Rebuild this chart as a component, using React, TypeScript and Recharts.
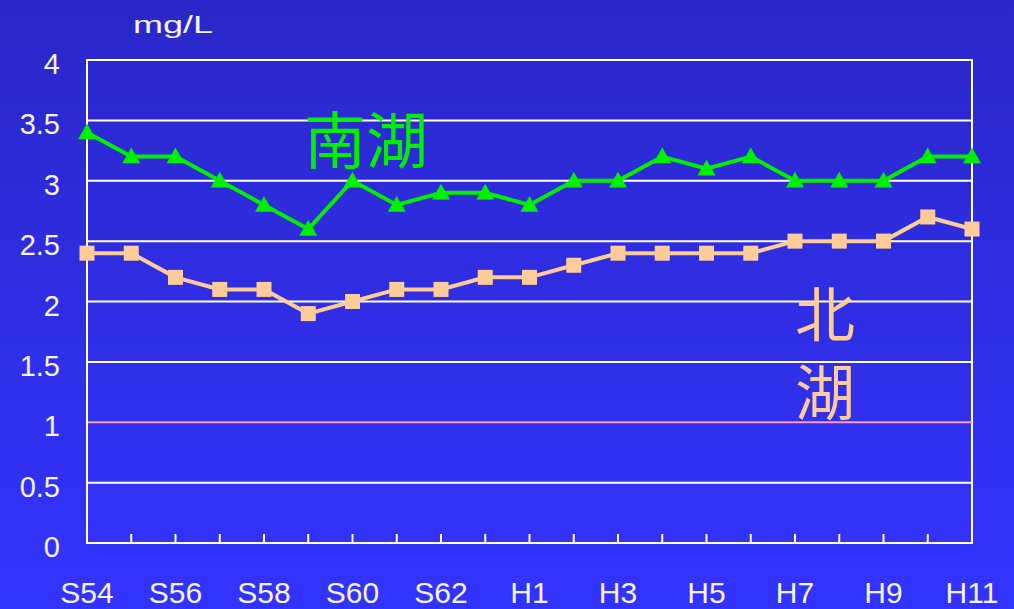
import React from "react";
import {
  LineChart,
  Line,
  XAxis,
  YAxis,
  CartesianGrid,
  ReferenceLine,
  ReferenceArea,
} from "recharts";

const categories = [
  "S54", "S55", "S56", "S57", "S58", "S59", "S60", "S61", "S62", "S63",
  "H1", "H2", "H3", "H4", "H5", "H6", "H7", "H8", "H9", "H10", "H11",
];
const southLake = [3.4, 3.2, 3.2, 3.0, 2.8, 2.6, 3.0, 2.8, 2.9, 2.9, 2.8, 3.0, 3.0, 3.2, 3.1, 3.2, 3.0, 3.0, 3.0, 3.2, 3.2];
const northLake = [2.4, 2.4, 2.2, 2.1, 2.1, 1.9, 2.0, 2.1, 2.1, 2.2, 2.2, 2.3, 2.4, 2.4, 2.4, 2.4, 2.5, 2.5, 2.5, 2.7, 2.6];
const yTicks = [0, 0.5, 1, 1.5, 2, 2.5, 3, 3.5, 4];
const gridLines = [0.5, 1.5, 2, 2.5, 3, 3.5];

const data = categories.map((c, i) => ({ name: c, south: southLake[i], north: northLake[i] }));

const W = 1014;
const H = 609;
const FONT = "'Liberation Sans', Arial, sans-serif";
const CJK = "'Noto Sans CJK JP', 'Noto Sans CJK SC', sans-serif";
const GREEN = "#00f000";
const PEACH = "#ffcc99";
const TEXT = "#f4f4ff";

const Triangle = (props: any) => {
  const { cx, cy, key } = props;
  if (cx == null || cy == null) return null;
  const s = 9;
  return (
    <polygon
      key={key}
      points={`${cx},${cy - s} ${cx - s},${cy + s * 0.75} ${cx + s},${cy + s * 0.75}`}
      fill={GREEN}
    />
  );
};

const Square = (props: any) => {
  const { cx, cy, key } = props;
  if (cx == null || cy == null) return null;
  const s = 7.5;
  return <rect key={key} x={cx - s} y={cy - s} width={s * 2} height={s * 2} fill={PEACH} />;
};

const XTick = (props: any) => {
  const { x, y, payload, index } = props;
  return (
    <g>
      <line x1={x} y1={y} x2={x} y2={y - 9} stroke="#ffffff" strokeWidth={2} />
      {index % 2 === 0 && (
        <text x={x} y={y + 60} textAnchor="middle" fill={TEXT} fontSize={30} fontFamily={FONT}>
          {payload.value}
        </text>
      )}
    </g>
  );
};

const YTick = (props: any) => {
  const { y, payload } = props;
  return (
    <text x={60} y={y + 14} textAnchor="end" fill={TEXT} fontSize={29} fontFamily={FONT}>
      {payload.value}
    </text>
  );
};

export default function App() {
  return (
    <div
      style={{
        position: "absolute",
        left: 0,
        top: 0,
        width: W,
        height: H,
        background: "linear-gradient(to bottom, #2a27c8 0%, #2f2ee4 50%, #3333ff 100%)",
      }}
    >
      <LineChart width={W} height={H} data={data} margin={{ top: 60, right: 42, bottom: 0, left: 0 }}>
        <CartesianGrid
          vertical={false}
          horizontal={true}
          horizontalValues={gridLines}
          stroke="#ffffff"
          strokeWidth={2}
        />
        <ReferenceLine y={1} stroke="#ff99cc" strokeWidth={2} />
        <ReferenceArea y1={0} y2={4} fill="none" stroke="#ffffff" strokeWidth={2} />
        <XAxis
          dataKey="name"
          interval={0}
          tickSize={0}
          tickMargin={0}
          axisLine={{ stroke: "#ffffff", strokeWidth: 2 }}
          tick={<XTick />}
          height={66}
        />
        <YAxis
          domain={[0, 4]}
          ticks={yTicks}
          width={87}
          tickSize={0}
          tickMargin={27}
          axisLine={{ stroke: "#ffffff", strokeWidth: 2 }}
          tick={<YTick />}
        />
        <Line
          dataKey="south"
          stroke={GREEN}
          strokeWidth={4}
          dot={<Triangle />}
          activeDot={false}
          isAnimationActive={false}
        />
        <Line
          dataKey="north"
          stroke={PEACH}
          strokeWidth={4}
          dot={<Square />}
          activeDot={false}
          isAnimationActive={false}
        />
        <text x={133} y={33} textLength={80} lengthAdjust="spacingAndGlyphs" fill={TEXT} fontSize={23} fontFamily={FONT}>
          mg/L
        </text>
        <text x={366} y={164} textAnchor="middle" fill={GREEN} fontSize={62} fontFamily={CJK}>
          南湖
        </text>
        <text x={825} y={337} textAnchor="middle" fill={PEACH} fontSize={60} fontFamily={CJK}>
          北
        </text>
        <text x={825} y={415} textAnchor="middle" fill={PEACH} fontSize={60} fontFamily={CJK}>
          湖
        </text>
      </LineChart>
    </div>
  );
}
